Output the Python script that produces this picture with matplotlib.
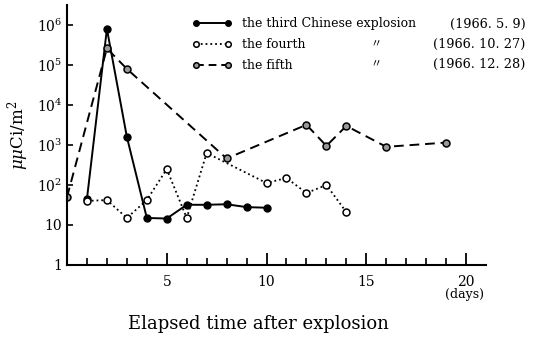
import matplotlib
matplotlib.use('Agg')
import matplotlib.pyplot as plt
from matplotlib.lines import Line2D

# days after explosion / deposition (uuCi/m2)
days_third = [1, 2, 3, 4, 5, 6, 7, 8, 9, 10]
vals_third = [45, 8e5, 1600, 15, 14.5, 32, 32, 33, 28, 27]

days_fourth = [1, 2, 3, 4, 5, 6, 7, 10, 11, 12, 13, 14]
vals_fourth = [40, 42, 15, 42, 250, 15, 630, 112, 150, 63, 100, 21]

days_fifth = [0, 2, 3, 8, 12, 13, 14, 16, 19]
vals_fifth = [50, 2.6e5, 8e4, 460, 3200, 950, 3000, 900, 1150]

legend_names = ['the third Chinese explosion', 'the fourth', 'the fifth']
legend_dates = ['(1966. 5. 9)', '(1966. 10. 27)', '(1966. 12. 28)']

plt.rcParams['font.family'] = ['DejaVu Serif', 'Noto Sans CJK JP']
plt.rcParams['mathtext.fontset'] = 'dejavuserif'

fig = plt.figure(figsize=(5.39, 3.41), dpi=100)
ax = fig.add_axes([0.1243, 0.2229, 0.7774, 0.7624])

ax.plot(days_third, vals_third, '-', color='black', lw=1.4,
        marker='o', ms=5, mfc='black', mec='black')
ax.plot(days_fourth, vals_fourth, ':', color='black', lw=1.3,
        marker='o', ms=5, mfc='white', mec='black', mew=1.1)
ax.plot(days_fifth, vals_fifth, '--', color='black', lw=1.4, dashes=(5, 3),
        marker='o', ms=5, mfc='#999999', mec='black', mew=1.1)

ax.set_yscale('log')
ax.set_ylim(1, 10 ** 6.5)
ax.set_xlim(0, 21)
ax.spines['top'].set_visible(False)
ax.spines['right'].set_visible(False)
ax.spines['left'].set_linewidth(1.5)
ax.spines['bottom'].set_linewidth(1.5)

ax.set_yticks([1, 10, 1e2, 1e3, 1e4, 1e5, 1e6])
ax.set_yticklabels(['1', '10', '$10^2$', '$10^3$', '$10^4$', '$10^5$', '$10^6$'])
ax.minorticks_off()
ax.set_xticks([5, 10, 15, 20])
ax.set_xticklabels(['5', '10', '15', '20'])
ax.set_xticks(range(1, 21), minor=True)
ax.tick_params(axis='x', which='major', direction='in', length=9, width=1.3, labelsize=10, pad=7)
ax.tick_params(axis='x', which='minor', direction='in', length=5, width=1.2)
ax.tick_params(axis='y', which='major', direction='in', length=4, width=1.2, labelsize=10)

fig.text(0.862, 0.125, '(days)', fontsize=9, ha='center')
fig.text(0.48, 0.035, 'Elapsed time after explosion', fontsize=13, ha='center')
ax.set_ylabel('$\\mu\\mu$Ci/m$^2$', fontsize=12, labelpad=4)

handles = [
    Line2D([], [], ls='-', color='black', lw=1.4, marker='o', ms=4, mfc='black'),
    Line2D([], [], ls=':', color='black', lw=1.3, marker='o', ms=4, mfc='white', mew=1.1),
    Line2D([], [], ls='--', color='black', lw=1.4, dashes=(4, 2.5), marker='o', ms=4,
           mfc='#999999', mew=1.1),
]
ax.legend(handles, legend_names, loc='upper left', bbox_to_anchor=(0.335, 0.982),
          bbox_transform=fig.transFigure, frameon=False, fontsize=9, numpoints=2,
          handlelength=3.2, handletextpad=0.8, labelspacing=0.62)

for i, d in enumerate(legend_dates):
    y = 0.929 - i * 0.059
    fig.text(0.975, y, d, fontsize=9.3, ha='right', va='center')
    if i > 0:
        fig.text(0.698, y, '〃', fontsize=8, ha='center', va='center')

plt.savefig('out.png', dpi=100)
